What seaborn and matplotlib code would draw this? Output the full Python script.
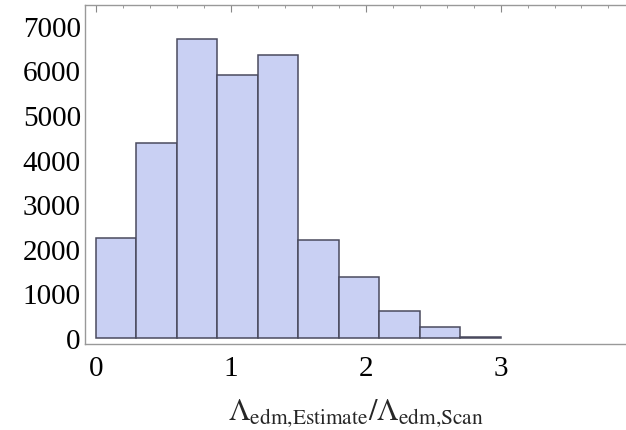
import numpy as np
import matplotlib
matplotlib.use("Agg")
import matplotlib.pyplot as plt
from matplotlib.ticker import MultipleLocator
import seaborn as sns

# histogram bins (width 0.3) and counts
bin_edges = [0.0, 0.3, 0.6, 0.9, 1.2, 1.5, 1.8, 2.1, 2.4, 2.7, 3.0]
counts = [2235, 4370, 6700, 5900, 6340, 2200, 1370, 595, 240, 15]
x_ticks = [0, 1, 2, 3]
y_ticks = [0, 1000, 2000, 3000, 4000, 5000, 6000, 7000]

centers = [(a + b) / 2 for a, b in zip(bin_edges[:-1], bin_edges[1:])]

sns.set_style("white")
plt.rcParams['font.family'] = ['Liberation Serif', 'DejaVu Serif']
plt.rcParams['mathtext.fontset'] = 'stix'

fig = plt.figure(figsize=(6.26, 4.31), dpi=100)
ax = fig.add_axes([85 / 626, 86 / 431, 541 / 626, 339 / 431])

sns.histplot(x=centers, weights=counts, bins=bin_edges, ax=ax,
             color='#c9d0f3', alpha=1, edgecolor='#4a4a5e', linewidth=1.1)

ax.set_xlim(-0.081, 3.93)
ax.set_ylim(-135, 7466)
ax.set_xticks(x_ticks)
ax.set_yticks(y_ticks)
ax.xaxis.set_minor_locator(MultipleLocator(0.2))
ax.yaxis.set_minor_locator(MultipleLocator(200))

ax.tick_params(which='both', direction='in', colors='#888888', top=True,
               labelcolor='black', labelsize=21)
ax.tick_params(which='major', length=5, width=0.8)
ax.tick_params(which='minor', length=2.5, width=0.6)
ax.tick_params(axis='x', pad=8)
ax.tick_params(axis='y', pad=3)

for side in ['left', 'bottom', 'top']:
    ax.spines[side].set_color('#999999')
    ax.spines[side].set_linewidth(1.0)
ax.spines['right'].set_visible(False)

ax.set_ylabel('')
ax.set_xlabel(r'$\Lambda_{\mathrm{edm{,}Estimate}}/\Lambda_{\mathrm{edm{,}Scan}}$',
              fontsize=22, labelpad=11)

plt.savefig('out.png', dpi=100)
